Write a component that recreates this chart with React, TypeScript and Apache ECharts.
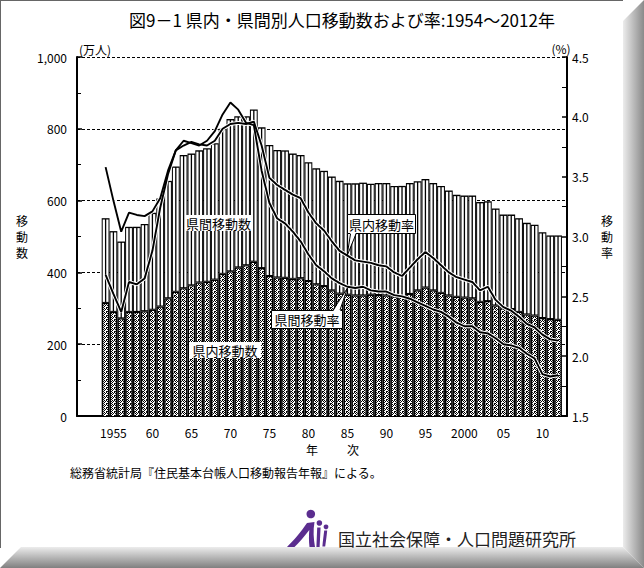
import React, { useEffect, useRef } from "react";
import * as echarts from "echarts";

const years = [
  1954, 1955, 1956, 1957, 1958, 1959, 1960, 1961, 1962, 1963,
  1964, 1965, 1966, 1967, 1968, 1969, 1970, 1971, 1972, 1973,
  1974, 1975, 1976, 1977, 1978, 1979, 1980, 1981, 1982, 1983,
  1984, 1985, 1986, 1987, 1988, 1989, 1990, 1991, 1992, 1993,
  1994, 1995, 1996, 1997, 1998, 1999, 2000, 2001, 2002, 2003,
  2004, 2005, 2006, 2007, 2008, 2009, 2010, 2011, 2012,
];

// 県内移動数 (万人)
const intraCounts = [
  315, 290, 272, 290, 290, 292, 296, 305, 328, 346,
  356, 364, 372, 374, 380, 396, 403, 414, 420, 430,
  412, 390, 386, 385, 382, 384, 376, 367, 362, 350,
  341, 338, 336, 336, 338, 337, 336, 333, 332, 340,
  350, 358, 350, 343, 336, 332, 330, 328, 318, 320,
  308, 300, 298, 290, 283, 280, 273, 270, 268,
];

// 県間移動数 (万人)
const interCounts = [
  236, 225, 214, 237, 237, 243, 270, 301, 327, 349,
  371, 367, 368, 372, 380, 404, 424, 421, 415, 424,
  392, 365, 355, 355, 349, 343, 331, 323, 321, 317,
  314, 310, 312, 314, 309, 312, 313, 308, 309, 309,
  304, 302, 299, 298, 292, 284, 284, 286, 278, 278,
  270, 261, 263, 261, 255, 253, 239, 233, 235,
];

// 県内移動率 (%)
const intraRate = [
  3.58, 3.30, 3.04, 3.20, 3.18, 3.17, 3.21, 3.32, 3.55, 3.72,
  3.76, 3.79, 3.77, 3.76, 3.80, 3.90, 3.94, 3.95, 3.94, 3.96,
  3.76, 3.49, 3.43, 3.39, 3.35, 3.32, 3.20, 3.11, 3.05, 2.96,
  2.88, 2.84, 2.80, 2.79, 2.78, 2.76, 2.75, 2.70, 2.67, 2.74,
  2.81, 2.87, 2.82, 2.76, 2.70, 2.66, 2.64, 2.62, 2.55, 2.58,
  2.47, 2.41, 2.38, 2.33, 2.27, 2.24, 2.18, 2.14, 2.13,
];

// 県間移動率 (%)
const interRate = [
  2.68, 2.52, 2.37, 2.62, 2.60, 2.65, 2.88, 3.24, 3.52, 3.72,
  3.80, 3.78, 3.76, 3.80, 3.88, 4.02, 4.12, 4.06, 3.95, 3.93,
  3.55, 3.28, 3.15, 3.11, 3.04, 2.96, 2.85, 2.76, 2.71, 2.65,
  2.61, 2.58, 2.57, 2.58, 2.55, 2.54, 2.54, 2.51, 2.50, 2.48,
  2.45, 2.42, 2.39, 2.37, 2.33, 2.28, 2.25, 2.25, 2.20, 2.19,
  2.15, 2.10, 2.09, 2.07, 2.02, 1.98, 1.85, 1.83, 1.84,
];

const xTickYears = [1955, 1960, 1965, 1970, 1975, 1980, 1985, 1990, 1995, 2000, 2005, 2010];
const xTickLabels = ["1955", "60", "65", "70", "75", "80", "85", "90", "95", "2000", "05", "10"];

const LOGO_BODY =
  "M4 39 C10 33 18 24 24 15 L31.5 14 C30 22 30.5 31 32 39 L26.5 39 C25.8 33 25.8 27 26.3 22 C21 29 15.5 35 11.5 39 Z " +
  "M34.2 19.5 L37.6 19.5 L36.6 39 L33.4 39 Z " +
  "M41.2 22.5 L44.2 22.5 C43.6 29 42.8 34 42.2 38.5 L39.4 38.5 C39.8 33 40.6 28 41.2 22.5 Z";
echarts.graphic.registerShape("ipssLogo", echarts.graphic.extendPath(LOGO_BODY, {}));

const FONT = "'Noto Sans CJK JP', 'Noto Sans CJK SC', sans-serif";

function makePattern(): HTMLCanvasElement {
  const c = document.createElement("canvas");
  c.width = 4;
  c.height = 4;
  const ctx = c.getContext("2d")!;
  ctx.fillStyle = "#fff";
  ctx.fillRect(0, 0, 4, 4);
  ctx.fillStyle = "#000";
  const pts = [[0, 0], [2, 0], [1, 1], [3, 1], [0, 2], [2, 3], [3, 3]];
  for (const [x, y] of pts) ctx.fillRect(x, y, 1, 1);
  return c;
}

function txt(text: string, x: number, y: number, size: number, align = "center", extra: any = {}) {
  return {
    type: "text",
    z: 100,
    style: {
      text,
      x,
      y,
      font: `${size}px ${FONT}`,
      fill: "#000",
      align,
      textAlign: align,
      verticalAlign: "middle",
      textVerticalAlign: "middle",
      ...extra,
    },
  };
}

export default function App() {
  const ref = useRef<HTMLDivElement>(null);

  useEffect(() => {
    if (!ref.current) return;
    const chart = echarts.init(ref.current, undefined, { renderer: "svg" });
    const patternCanvas = makePattern();
    const patternFill = { image: patternCanvas, repeat: "repeat", imageWidth: 4, imageHeight: 4 };

    const barData = years.map((y, i) => [y, intraCounts[i], interCounts[i]]);
    const intraLine = years.map((y, i) => [y, intraRate[i]]);
    const interLine = years.map((y, i) => [y, interRate[i]]);

    const renderItem = (params: any, api: any) => {
      const yr = api.value(0);
      const a = api.value(1);
      const b = api.value(2);
      const base = api.coord([yr, 0]);
      const mid = api.coord([yr, a]);
      const top = api.coord([yr, a + b]);
      const w = api.size([1, 0])[0];
      const x0 = base[0] - w / 2;
      const inner = 4.6;
      const edge = 1.0;
      const center = 1.3;
      const wh = (w - 2 * edge - center) / 2;
      return {
        type: "group",
        children: [
          { type: "rect", shape: { x: x0, y: mid[1], width: w, height: base[1] - mid[1] }, style: { fill: "#000" } },
          {
            type: "rect",
            shape: { x: base[0] - inner / 2, y: mid[1] + 1.3, width: inner, height: base[1] - mid[1] - 1.3 },
            style: { fill: "#8a8a8a" },
          },
          {
            type: "rect",
            shape: { x: base[0] - inner / 2, y: mid[1] + 1.3, width: inner, height: base[1] - mid[1] - 1.3 },
            style: { fill: patternFill },
          },
          { type: "rect", shape: { x: x0, y: top[1], width: w, height: mid[1] - top[1] }, style: { fill: "#000" } },
          {
            type: "rect",
            shape: { x: x0 + edge, y: top[1] + 1.3, width: wh, height: mid[1] - top[1] - 2.3 },
            style: { fill: "#fff" },
          },
          {
            type: "rect",
            shape: { x: x0 + edge + wh + center, y: top[1] + 1.3, width: wh, height: mid[1] - top[1] - 2.3 },
            style: { fill: "#fff" },
          },
        ],
      };
    };

    const bevelR = new echarts.graphic.LinearGradient(0, 0, 1, 0, [
      { offset: 0, color: "#ececec" },
      { offset: 1, color: "#8a8a8a" },
    ]);
    const bevelB = new echarts.graphic.LinearGradient(0, 0, 0, 1, [
      { offset: 0, color: "#ececec" },
      { offset: 1, color: "#808080" },
    ]);

    const option: any = {
      animation: false,
      backgroundColor: "#fff",
      textStyle: { fontFamily: FONT },
      grid: { left: 77, right: 77, top: 57, bottom: 152, containLabel: false },
      xAxis: {
        type: "value",
        min: 1950.333,
        max: 2013.15,
        axisLine: { show: true, onZero: false, lineStyle: { color: "#000", width: 2 } },
        axisTick: {
          show: true,
          inside: true,
          length: 3,
          customValues: xTickYears,
          lineStyle: { color: "#000", width: 1.5 },
        },
        axisLabel: {
          customValues: xTickYears,
          formatter: (v: number) => {
            const idx = xTickYears.indexOf(Math.round(v));
            return idx >= 0 ? xTickLabels[idx] : "";
          },
          color: "#000",
          fontSize: 12,
          fontFamily: FONT,
          margin: 10,
        },
        splitLine: { show: false },
      },
      yAxis: [
        {
          type: "value",
          min: 0,
          max: 1000,
          interval: 200,
          position: "left",
          axisLine: { show: true, lineStyle: { color: "#000", width: 2 } },
          axisTick: { show: true, inside: true, length: 5, lineStyle: { color: "#000", width: 1.5 } },
          minorTick: { show: true, splitNumber: 2, length: 4, lineStyle: { color: "#000", width: 1 } },
          axisLabel: {
            formatter: (v: number) => v.toLocaleString("en-US"),
            color: "#000",
            fontSize: 12,
            fontFamily: FONT,
            margin: 10,
          },
          splitLine: { show: true, lineStyle: { color: "#000", type: [3, 2], width: 1 } },
        },
        {
          type: "value",
          min: 1.5,
          max: 4.5,
          interval: 0.5,
          position: "right",
          axisLine: { show: true, lineStyle: { color: "#000", width: 2 } },
          axisTick: { show: true, inside: true, length: 5, lineStyle: { color: "#000", width: 1.5 } },
          minorTick: { show: true, splitNumber: 2, length: 5, lineStyle: { color: "#000", width: 1 } },
          axisLabel: {
            formatter: (v: number) => v.toFixed(1),
            color: "#000",
            fontSize: 12,
            fontFamily: FONT,
            margin: 5,
          },
          splitLine: { show: false },
        },
      ],
      series: [
        {
          name: "移動数",
          type: "custom",
          renderItem,
          data: barData,
          encode: { x: 0, y: [1, 2] },
          z: 2,
        },
        {
          name: "県内移動率_bg",
          type: "line",
          yAxisIndex: 1,
          data: intraLine,
          symbol: "none",
          lineStyle: { color: "#fff", width: 3.8 },
          z: 4,
          silent: true,
        },
        {
          name: "県間移動率_bg",
          type: "line",
          yAxisIndex: 1,
          data: interLine,
          symbol: "none",
          lineStyle: { color: "#fff", width: 3.8 },
          z: 4,
          silent: true,
        },
        {
          name: "県内移動率",
          type: "line",
          yAxisIndex: 1,
          data: intraLine,
          symbol: "none",
          lineStyle: { color: "#000", width: 1.9 },
          z: 5,
        },
        {
          name: "県間移動率",
          type: "line",
          yAxisIndex: 1,
          data: interLine,
          symbol: "none",
          lineStyle: { color: "#000", width: 1.9 },
          z: 5,
        },
      ],
      graphic: [
        { type: "polygon", z: 100, shape: { points: [[644, 0], [644, 568], [623, 547], [623, 21]] }, style: { fill: bevelR } },
        { type: "polygon", z: 100, shape: { points: [[0, 568], [644, 568], [623, 547], [21, 547]] }, style: { fill: bevelB } },
        { type: "line", z: 100, shape: { x1: 0.5, y1: 0, x2: 0.5, y2: 548 }, style: { stroke: "#666", lineWidth: 1 } },
        { type: "line", z: 100, shape: { x1: 0, y1: 0.5, x2: 623, y2: 0.5 }, style: { stroke: "#666", lineWidth: 1 } },

        txt("図9－1 県内・県間別人口移動数および率:1954～2012年", 342, 19, 17),
        txt("(万人)", 95, 49, 12),
        txt("(%)", 561, 48, 12),
        txt("移\n動\n数", 22, 236, 12, "center", { lineHeight: 16 }),
        txt("移\n動\n率", 607, 236, 12, "center", { lineHeight: 16 }),
        txt("年", 312, 449, 12),
        txt("次", 353, 449, 12),
        txt("総務省統計局『住民基本台帳人口移動報告年報』による。", 70, 472, 12, "left"),

        { type: "rect", z: 100, shape: { x: 185, y: 215, width: 67, height: 16 }, style: { fill: "#fff" } },
        txt("県間移動数", 218.5, 223, 13),
        { type: "rect", z: 100, shape: { x: 189, y: 342, width: 72, height: 16 }, style: { fill: "#fff" } },
        txt("県内移動数", 225, 350, 13),

        { type: "rect", z: 100, shape: { x: 347.5, y: 214.5, width: 68, height: 19 }, style: { fill: "#fff", stroke: "#000", lineWidth: 1 } },
        txt("県内移動率", 381.5, 224, 13),
        { type: "polygon", z: 101, shape: { points: [[350.5, 232.5], [356, 232.5], [347, 256]] }, style: { fill: "#fff" } },
        { type: "polyline", z: 102, shape: { points: [[350.5, 234], [347, 256], [356, 234]] }, style: { stroke: "#000", lineWidth: 1, fill: null } },

        { type: "rect", z: 100, shape: { x: 271.5, y: 310.5, width: 71, height: 18 }, style: { fill: "#fff", stroke: "#000", lineWidth: 1 } },
        txt("県間移動率", 307, 319.5, 13),
        { type: "polygon", z: 101, shape: { points: [[333, 311.5], [340, 311.5], [347.5, 288]] }, style: { fill: "#fff" } },
        { type: "polyline", z: 102, shape: { points: [[333, 310], [347.5, 288], [340, 310]] }, style: { stroke: "#000", lineWidth: 1, fill: null } },

        { type: "ipssLogo", z: 100, x: 283, y: 508, scaleX: 1, scaleY: 1, style: { fill: "#5b2d8f" } },
        { type: "circle", z: 100, shape: { cx: 283 + 27.8, cy: 508 + 6, r: 4.3 }, style: { fill: "#5b2d8f" } },
        { type: "circle", z: 100, shape: { cx: 283 + 36.4, cy: 508 + 15, r: 2.8 }, style: { fill: "#5b2d8f" } },
        { type: "circle", z: 100, shape: { cx: 283 + 43, cy: 508 + 18.8, r: 2.4 }, style: { fill: "#5b2d8f" } },
        txt("国立社会保障・人口問題研究所", 338, 538, 17, "left", { fill: "#222" }),
      ],
    };

    chart.setOption(option);
    return () => {
      chart.dispose();
    };
  }, []);

  return (
    <div
      ref={ref}
      style={{ position: "fixed", left: 0, top: 0, width: 644, height: 568, background: "#fff" }}
    />
  );
}
